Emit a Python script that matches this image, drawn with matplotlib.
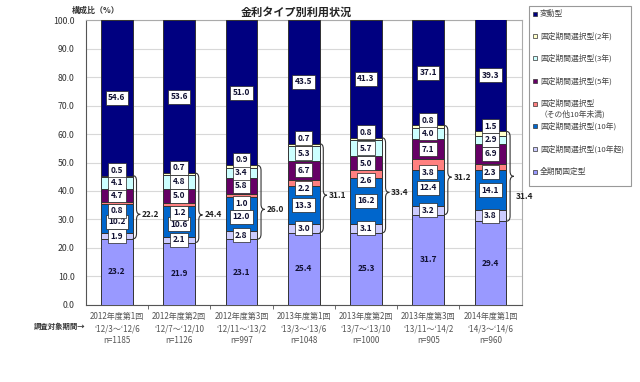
import matplotlib
matplotlib.use("Agg")
import matplotlib.pyplot as plt
from matplotlib.path import Path
from matplotlib.patches import PathPatch, Rectangle
import numpy as np

plt.rcParams['font.family'] = ['Noto Sans CJK JP', 'DejaVu Sans']

# --- data ---
rounds = ["2012年度第1回", "2012年度第2回", "2012年度第3回", "2013年度第1回",
          "2013年度第2回", "2013年度第3回", "2014年度第1回"]
periods = ["‘12/3～‘12/6", "‘12/7～‘12/10", "‘12/11～‘13/2", "‘13/3～‘13/6",
           "‘13/7～‘13/10", "‘13/11～‘14/2", "‘14/3～‘14/6"]
n_resp = [1185, 1126, 997, 1048, 1000, 905, 960]

full_fixed = [23.2, 21.9, 23.1, 25.4, 25.3, 31.7, 29.4]
sel_over10 = [1.9, 2.1, 2.8, 3.0, 3.1, 3.2, 3.8]
sel_10 = [10.2, 10.6, 12.0, 13.3, 16.2, 12.4, 14.1]
sel_other = [0.8, 1.2, 1.0, 2.2, 2.6, 3.8, 2.3]
sel_5 = [4.7, 5.0, 5.8, 6.7, 5.0, 7.1, 6.9]
sel_3 = [4.1, 4.8, 3.4, 5.3, 5.7, 4.0, 2.9]
sel_2 = [0.5, 0.7, 0.9, 0.7, 0.8, 0.8, 1.5]
variable = [54.6, 53.6, 51.0, 43.5, 41.3, 37.1, 39.3]
sel_total = [22.2, 24.4, 26.0, 31.1, 33.4, 31.2, 31.4]

series = [
    ("全期間固定型", full_fixed, "#9999ff"),
    ("固定期間選択型(10年超)", sel_over10, "#ccccff"),
    ("固定期間選択型(10年)", sel_10, "#0066cc"),
    ("固定期間選択型\n（その他10年未満)", sel_other, "#ff8080"),
    ("固定期間選択型(5年)", sel_5, "#660066"),
    ("固定期間選択型(3年)", sel_3, "#ccffff"),
    ("固定期間選択型(2年)", sel_2, "#ffffcc"),
    ("変動型", variable, "#000080"),
]

fig = plt.figure(figsize=(6.4, 3.82), dpi=100)
ax = fig.add_axes([0.134, 0.2016, 0.681, 0.746])

x = np.arange(len(rounds))
w = 0.51
bottom = np.zeros(len(rounds))
bottoms = []
for name, vals, col in series:
    vals = np.array(vals)
    ax.bar(x, vals, w, bottom=bottom, color=col, edgecolor="#333333",
           linewidth=0.7, label=name, zorder=3)
    bottoms.append(bottom.copy())
    bottom = bottom + vals

box = dict(boxstyle="square,pad=0.3", facecolor="white", edgecolor="#222222", linewidth=0.5)
kw = dict(ha="center", va="center", fontsize=6, fontweight="bold", color="#111133", zorder=5)

for i in range(len(rounds)):
    b = [bb[i] for bb in bottoms]
    # 全期間固定型 (no box)
    ax.text(x[i], b[0] + full_fixed[i] / 2, f"{full_fixed[i]:.1f}", **kw)
    ax.text(x[i], b[1] + sel_over10[i] / 2, f"{sel_over10[i]:.1f}", bbox=box, **kw)
    small = sel_other[i] < 2
    ax.text(x[i], b[2] + sel_10[i] / 2 - (1 if small else 0), f"{sel_10[i]:.1f}", bbox=box, **kw)
    ax.text(x[i], b[3] - (2.2 if small else 0.8), f"{sel_other[i]:.1f}", bbox=box, **kw)
    ax.text(x[i], b[4] + sel_5[i] / 2, f"{sel_5[i]:.1f}", bbox=box, **kw)
    ax.text(x[i], b[5] + sel_3[i] / 2, f"{sel_3[i]:.1f}", bbox=box, **kw)
    ax.text(x[i], b[7] + 1.9, f"{sel_2[i]:.1f}", bbox=box, **kw)
    ax.text(x[i], b[7] + variable[i] / 2, f"{variable[i]:.1f}", bbox=box, **kw)

    # brace over all 固定期間選択型
    y0, y1 = b[1], b[7]
    mid = (y0 + y1) / 2
    tip = mid if i == len(rounds) - 1 else mid - 2.5
    r = 1.8
    xl, xv, xt = x[i] + w / 2, x[i] + w / 2 + 0.06, x[i] + w / 2 + 0.12
    verts = [(xl, y1), (xv, y1), (xv, y1 - r),
             (xv, tip + r), (xv, tip), (xt, tip),
             (xt, tip), (xv, tip), (xv, tip - r),
             (xv, y0 + r), (xv, y0), (xl, y0)]
    codes = [Path.MOVETO, Path.CURVE3, Path.CURVE3,
             Path.LINETO, Path.CURVE3, Path.CURVE3,
             Path.MOVETO, Path.CURVE3, Path.CURVE3,
             Path.LINETO, Path.CURVE3, Path.CURVE3]
    ax.add_patch(PathPatch(Path(verts, codes), facecolor="none", edgecolor="#333333",
                           linewidth=0.8, zorder=4, clip_on=False))
    ty = tip - 7 if i == len(rounds) - 1 else tip
    tx = x[i] + w / 2 + 0.15
    ax.text(tx, ty, f"{sel_total[i]:.1f}", ha="left", va="center", fontsize=6,
            fontweight="bold", color="#222222", zorder=5, clip_on=False)

ax.set_xlim(-0.5, len(rounds) - 0.5)
ax.set_ylim(0, 100)
ax.set_yticks(np.arange(0, 101, 10))
ax.set_yticklabels([f"{v:.1f}" for v in np.arange(0, 101, 10)], fontsize=6.3, color="#333333")
ax.yaxis.grid(True, color="#d8d8d8", linewidth=0.8, zorder=0)
ax.tick_params(axis="y", length=0, pad=8)
ax.set_xticks(x)
ax.set_xticklabels([f"{r}\n{p}\nn={n}" for r, p, n in zip(rounds, periods, n_resp)],
                   fontsize=5.8, color="#555555", linespacing=1.45)
ax.tick_params(axis="x", length=0, pad=5)
ax.set_xticks(np.arange(0.5, len(rounds) - 0.5, 1), minor=True)
ax.tick_params(axis="x", which="minor", length=3, color="#555555")
for s in ["top", "right"]:
    ax.spines[s].set_color("#aaaaaa")
ax.spines["left"].set_color("#555555")
ax.spines["bottom"].set_color("#555555")

fig.text(0.4625, 0.967, "金利タイプ別利用状況", ha="center", va="center",
         fontsize=8, fontweight="bold", color="#222222")
fig.text(0.149, 0.972, "構成比（%）", ha="center", va="center",
         fontsize=5.8, fontweight="bold", color="#333333")
fig.text(0.052, 0.147, "調査対象期間→", ha="left", va="center",
         fontsize=5.3, fontweight="bold", color="#333333")

# legend drawn by hand so the two-line entry keeps the reference spacing
fig.patches.append(Rectangle((529 / 640, 1 - 186 / 382), 102 / 640, 180 / 382,
                             transform=fig.transFigure, facecolor="white",
                             edgecolor="#999999", linewidth=0.8))
leg_y = [14, 36, 58, 81, 104, 126, 149, 172]
for (name, vals, col), yy in zip(series[::-1], leg_y):
    fig.patches.append(Rectangle((533 / 640, 1 - (yy + 2) / 382), 4 / 640, 4 / 382,
                                 transform=fig.transFigure, facecolor=col,
                                 edgecolor="#333333", linewidth=0.5))
    ty = yy + 5 if "\n" in name else yy
    fig.text(540 / 640, 1 - ty / 382, name, ha="left", va="center",
             fontsize=5.6, color="#444444", linespacing=1.3)

fig.savefig("out.png", dpi=100)
